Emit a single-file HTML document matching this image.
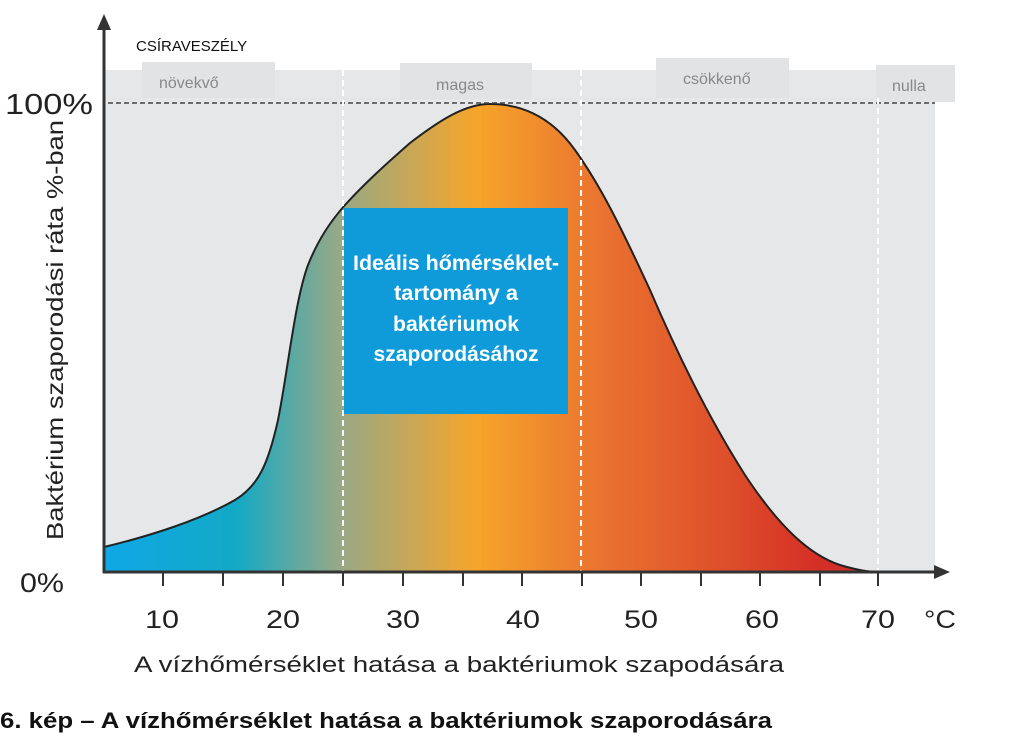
<!DOCTYPE html>
<html><head><meta charset="utf-8"><style>
html,body{margin:0;padding:0;background:#fff;width:1024px;height:737px;overflow:hidden}
svg{display:block}
text{font-family:"Liberation Sans",sans-serif}
</style></head><body>
<svg width="1024" height="737" viewBox="0 0 1024 737" xmlns="http://www.w3.org/2000/svg">
<defs>
<linearGradient id="g" x1="104" x2="880" y1="0" y2="0" gradientUnits="userSpaceOnUse">
<stop offset="0" stop-color="#10a8e6"/>
<stop offset="0.17" stop-color="#12a9c6"/>
<stop offset="0.3" stop-color="#94a988"/>
<stop offset="0.48" stop-color="#f7a52a"/>
<stop offset="0.64" stop-color="#ea7330"/>
<stop offset="0.82" stop-color="#dc4a2a"/>
<stop offset="0.92" stop-color="#d52f25"/>
<stop offset="1" stop-color="#c9302a"/>
</linearGradient>
</defs>
<rect x="105" y="70" width="830" height="502" fill="#e6e7e9"/>
<rect x="142" y="62" width="133" height="36" fill="#e2e3e5"/>
<rect x="400" y="63" width="132" height="36" fill="#e2e3e5"/>
<rect x="656" y="58" width="133" height="40" fill="#e2e3e5"/>
<rect x="876" y="65" width="79" height="37" fill="#e2e3e5"/>
<text x="136" y="51" font-size="15" fill="#111">CSÍRAVESZÉLY</text>
<text x="159" y="88" font-size="16" fill="#888">növekvő</text>
<text x="436" y="90" font-size="16" fill="#888">magas</text>
<text x="683" y="84" font-size="16" fill="#888">csökkenő</text>
<text x="892" y="91" font-size="16" fill="#888">nulla</text>
<path d="M104 547 C150 536 200 520 235 500 C258 486 268 465 278 420 C288 370 295 300 308 265 C318 240 330 222 345 205 C365 183 385 165 410 143 C440 120 465 104 490 104 C520 104 550 115 575 150 C600 185 620 225 650 290 C680 360 710 420 745 475 C780 528 810 555 840 565 C860 571 870 572 878 572 L104 572 Z" fill="url(#g)" stroke="#222" stroke-width="2"/>
<line x1="108" y1="103" x2="935" y2="103" stroke="#444" stroke-width="1.5" stroke-dasharray="5,3"/>
<g stroke="#fff" stroke-width="2" stroke-dasharray="6,4">
<line x1="343" y1="70" x2="343" y2="572"/>
<line x1="581" y1="70" x2="581" y2="572"/>
<line x1="878" y1="98" x2="878" y2="572"/>
</g>
<rect x="344" y="208" width="224" height="206" fill="#0f9ad9"/>
<g fill="#fff" font-size="21" font-weight="bold" text-anchor="middle">
<text x="456" y="270" textLength="206" lengthAdjust="spacingAndGlyphs">Ideális hőmérséklet-</text>
<text x="456" y="300" textLength="124" lengthAdjust="spacingAndGlyphs">tartomány a</text>
<text x="456" y="331" textLength="126" lengthAdjust="spacingAndGlyphs">baktériumok</text>
<text x="456" y="361" textLength="165" lengthAdjust="spacingAndGlyphs">szaporodásához</text>
</g>
<line x1="104" y1="18" x2="104" y2="573" stroke="#333" stroke-width="3"/>
<path d="M97 30 L104 14 L111 30 Z" fill="#333"/>
<line x1="103" y1="572" x2="940" y2="572" stroke="#333" stroke-width="3"/>
<path d="M934 565 L950 572 L934 579 Z" fill="#333"/>
<g stroke="#333" stroke-width="2">
<line x1="163" y1="572" x2="163" y2="586"/><line x1="223" y1="572" x2="223" y2="586"/>
<line x1="283" y1="572" x2="283" y2="586"/><line x1="343" y1="572" x2="343" y2="586"/>
<line x1="403" y1="572" x2="403" y2="586"/><line x1="463" y1="572" x2="463" y2="586"/>
<line x1="522" y1="572" x2="522" y2="586"/><line x1="582" y1="572" x2="582" y2="586"/>
<line x1="641" y1="572" x2="641" y2="586"/><line x1="701" y1="572" x2="701" y2="586"/>
<line x1="760" y1="572" x2="760" y2="586"/><line x1="820" y1="572" x2="820" y2="586"/>
<line x1="878" y1="572" x2="878" y2="586"/>
</g>
<g font-size="25" fill="#222" text-anchor="middle">
<text x="162" y="628" textLength="34" lengthAdjust="spacingAndGlyphs">10</text>
<text x="283" y="628" textLength="34" lengthAdjust="spacingAndGlyphs">20</text>
<text x="403" y="628" textLength="34" lengthAdjust="spacingAndGlyphs">30</text>
<text x="523" y="628" textLength="34" lengthAdjust="spacingAndGlyphs">40</text>
<text x="641" y="628" textLength="34" lengthAdjust="spacingAndGlyphs">50</text>
<text x="762" y="628" textLength="34" lengthAdjust="spacingAndGlyphs">60</text>
<text x="878" y="628" textLength="34" lengthAdjust="spacingAndGlyphs">70</text>
<text x="940" y="628" textLength="32" lengthAdjust="spacingAndGlyphs">°C</text>
</g>
<text x="5" y="114" font-size="29" fill="#222" textLength="88" lengthAdjust="spacingAndGlyphs">100%</text>
<text x="20" y="592" font-size="27" fill="#222" textLength="44" lengthAdjust="spacingAndGlyphs">0%</text>
<text transform="translate(63,540) rotate(-90)" font-size="23" fill="#222" textLength="420" lengthAdjust="spacingAndGlyphs">Baktérium szaporodási ráta %-ban</text>
<text x="134" y="672" font-size="22" fill="#222" textLength="650" lengthAdjust="spacingAndGlyphs">A vízhőmérséklet hatása a baktériumok szapodására</text>
<text x="0" y="728" font-size="22" font-weight="bold" fill="#111" textLength="772" lengthAdjust="spacingAndGlyphs">6. kép – A vízhőmérséklet hatása a baktériumok szaporodására</text>
</svg>
</body></html>
